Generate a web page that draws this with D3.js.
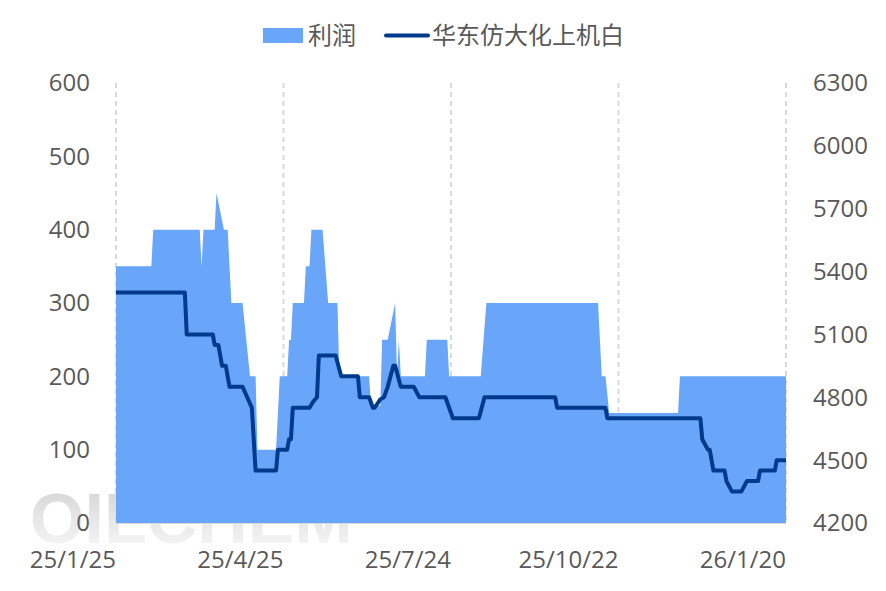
<!DOCTYPE html>
<meta charset="utf-8">
<style>
    body { margin: 0; background: #fff; }
    text { font-family: "Open Sans", "Noto Sans CJK SC", sans-serif; fill: #595959; }
</style>
<body>
<script src="https://cdn.jsdelivr.net/npm/d3@7"></script>
<script>
    // profit (left axis)
    var profitDates = ["2025-01-25","2025-02-13","2025-02-14","2025-03-11","2025-03-12","2025-03-13","2025-03-19","2025-03-20",
        "2025-03-24","2025-03-26","2025-03-28","2025-04-03","2025-04-07","2025-04-10","2025-04-11","2025-04-21","2025-04-23",
        "2025-04-27","2025-04-28","2025-04-29","2025-04-30","2025-05-06","2025-05-07","2025-05-09","2025-05-10","2025-05-16",
        "2025-05-19","2025-05-24","2025-05-25","2025-06-10","2025-06-11","2025-06-16","2025-06-17","2025-06-20","2025-06-24",
        "2025-06-25","2025-06-26","2025-06-27","2025-07-10","2025-07-11","2025-07-22","2025-07-23","2025-08-09","2025-08-12",
        "2025-10-11","2025-10-13","2025-10-15","2025-10-17","2025-11-23","2025-11-24","2026-01-20"];
    var profitValues = [350,350,400,400,350,400,400,450,
        400,400,300,300,200,200,100,100,200,
        200,250,250,300,300,350,350,400,400,
        300,300,200,200,160,160,250,250,300,
        200,250,200,200,250,250,200,200,300,
        300,200,200,150,150,200,200];

    // 华东仿大化上机白 price (right axis)
    var priceDates = ["2025-01-25","2025-03-03","2025-03-04","2025-03-18","2025-03-19","2025-03-21","2025-03-23","2025-03-25",
        "2025-03-27","2025-04-03","2025-04-08","2025-04-10","2025-04-21","2025-04-22","2025-04-27","2025-04-28","2025-04-29",
        "2025-04-30","2025-05-09","2025-05-11","2025-05-13","2025-05-14","2025-05-23","2025-05-26","2025-06-04","2025-06-05",
        "2025-06-10","2025-06-12","2025-06-13","2025-06-16","2025-06-18","2025-06-20","2025-06-23","2025-06-24","2025-06-27",
        "2025-07-04","2025-07-07","2025-07-21","2025-07-23","2025-07-25","2025-08-08","2025-08-11","2025-09-18","2025-09-19",
        "2025-10-15","2025-10-16","2025-12-05","2025-12-06","2025-12-09","2025-12-10","2025-12-12","2025-12-18","2025-12-19",
        "2025-12-22","2025-12-27","2025-12-30","2026-01-05","2026-01-06","2026-01-14","2026-01-15","2026-01-20"];
    var priceValues = [5300,5300,5100,5100,5050,5050,4950,4950,
        4850,4850,4750,4450,4450,4550,4550,4600,4600,
        4750,4750,4780,4800,5000,5000,4900,4900,4800,
        4800,4750,4750,4790,4800,4850,4950,4950,4850,
        4850,4800,4800,4750,4700,4700,4800,4800,4750,
        4750,4700,4700,4600,4550,4550,4450,4450,4400,
        4350,4350,4400,4400,4450,4450,4500,4500];

    var xTicks = ["2025-01-25","2025-04-25","2025-07-24","2025-10-22","2026-01-20"];
    var xTickLabels = ["25/1/25","25/4/25","25/7/24","25/10/22","26/1/20"];
    var leftTicks = [0,100,200,300,400,500,600];
    var rightTicks = [4200,4500,4800,5100,5400,5700,6000,6300];

    var parse = d3.timeParse("%Y-%m-%d");
    var profit = profitDates.map(function(d, i) { return {date: parse(d), value: profitValues[i]}; });
    var price = priceDates.map(function(d, i) { return {date: parse(d), value: priceValues[i]}; });

    var W = 886, H = 591;
    var plot = {left: 116, right: 786, top: 83, bottom: 523};

    var svg = d3.select("body").append("svg")
        .attr("width", W)
        .attr("height", H);

    var x = d3.scaleTime()
        .domain([parse("2025-01-25"), parse("2026-01-20")])
        .range([plot.left, plot.right]);
    var yL = d3.scaleLinear().domain([0, 600]).range([plot.bottom, plot.top]);
    var yR = d3.scaleLinear().domain([4200, 6300]).range([plot.bottom, plot.top]);

    // watermark
    var grad = svg.append("defs").append("linearGradient")
        .attr("id", "wm").attr("x1", "0").attr("y1", "0").attr("x2", "0").attr("y2", "1");
    grad.append("stop").attr("offset", "0%").attr("stop-color", "#d2d2d2");
    grad.append("stop").attr("offset", "100%").attr("stop-color", "#fbfbfb");
    svg.append("text")
        .attr("x", 30)
        .attr("y", 543)
        .style("font-family", "'Liberation Sans', Arial, sans-serif")
        .style("font-weight", "bold")
        .style("font-size", "70px")
        .style("fill", "url(#wm)")
        .text("OILCHEM");

    // vertical dashed grid
    svg.selectAll(".grid")
        .data(xTicks)
        .enter().append("line")
        .attr("class", "grid")
        .attr("x1", function(d) { return x(parse(d)); })
        .attr("x2", function(d) { return x(parse(d)); })
        .attr("y1", plot.top)
        .attr("y2", plot.bottom)
        .attr("stroke", "#d9d9d9")
        .attr("stroke-width", 2)
        .attr("stroke-dasharray", "5,4");

    // profit area
    var area = d3.area()
        .x(function(d) { return x(d.date); })
        .y0(yL(0))
        .y1(function(d) { return yL(d.value); });
    svg.append("path")
        .datum(profit)
        .attr("d", area)
        .attr("fill", "#69a6fa");

    // x axis line
    svg.append("line")
        .attr("x1", plot.left).attr("x2", plot.right)
        .attr("y1", plot.bottom + 0.5).attr("y2", plot.bottom + 0.5)
        .attr("stroke", "#d9d9d9");

    // price line
    var line = d3.line()
        .x(function(d) { return x(d.date); })
        .y(function(d) { return yR(d.value); });
    svg.append("path")
        .datum(price)
        .attr("d", line)
        .attr("fill", "none")
        .attr("stroke", "#003a8c")
        .attr("stroke-width", 4)
        .attr("stroke-linejoin", "round");

    // axes (labels only)
    var fs = "24px";
    svg.selectAll(".yl")
        .data(leftTicks)
        .enter().append("text")
        .attr("x", 90)
        .attr("y", function(d) { return yL(d); })
        .attr("dy", "0.35em")
        .attr("text-anchor", "end")
        .style("font-size", fs)
        .text(function(d) { return d; });

    svg.selectAll(".yr")
        .data(rightTicks)
        .enter().append("text")
        .attr("x", 813)
        .attr("y", function(d) { return yR(d); })
        .attr("dy", "0.35em")
        .attr("text-anchor", "start")
        .style("font-size", fs)
        .text(function(d) { return d; });

    svg.selectAll(".xl")
        .data(xTicks)
        .enter().append("text")
        .attr("x", function(d) { return x(parse(d)); })
        .attr("y", 560)
        .attr("dy", "0.35em")
        .attr("text-anchor", "end")
        .style("font-size", fs)
        .text(function(d, i) { return xTickLabels[i]; });

    // legend
    var lg = svg.append("g");
    lg.append("rect")
        .attr("x", 263).attr("y", 28).attr("width", 40).attr("height", 15)
        .attr("fill", "#69a6fa");
    lg.append("text")
        .attr("x", 308).attr("y", 36).attr("dy", "0.35em")
        .style("font-size", fs)
        .text("利润");
    lg.append("line")
        .attr("x1", 386).attr("x2", 428).attr("y1", 35.5).attr("y2", 35.5)
        .attr("stroke", "#003a8c").attr("stroke-width", 4).attr("stroke-linecap", "round");
    lg.append("text")
        .attr("x", 432).attr("y", 36).attr("dy", "0.35em")
        .style("font-size", fs)
        .text("华东仿大化上机白");
</script>
</body>
